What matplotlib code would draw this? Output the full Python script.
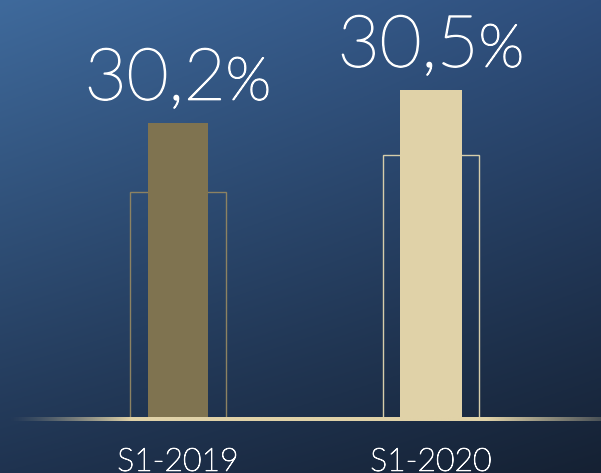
import numpy as np
import matplotlib
matplotlib.use("Agg")
import matplotlib.pyplot as plt
import matplotlib.patheffects as pe

periods = ["S1-2019", "S1-2020"]
values = [30.2, 30.5]
outline_values = [29.57, 29.91]
labels = ["30,2", "30,5"]

solid_colors = ["#7f7350", "#e0d2a8"]
edge_colors = ["#8c8262", "#d6cdaa"]

W, H = 601, 473
fig = plt.figure(figsize=(W / 100, H / 100), dpi=100)

# background gradient (four corner colours, bilinear)
bg = fig.add_axes([0, 0, 1, 1])
tl = np.array([63, 106, 156]) / 255
tr = np.array([46, 78, 124]) / 255
bl = np.array([31, 51, 80]) / 255
br = np.array([21, 33, 51]) / 255
u = np.linspace(0, 1, 300)[None, :, None]
v = np.linspace(0, 1, 240)[:, None, None]
img = (1 - v) * ((1 - u) * tl + u * tr) + v * ((1 - u) * bl + u * br)
bg.imshow(img, aspect="auto", extent=(0, 1, 0, 1), origin="upper")
bg.set_axis_off()

# main axes: starts at the baseline
base = 27.52
ax = fig.add_axes([0, 55 / H, 1, 418 / H])
ax.patch.set_alpha(0)
ax.set_xlim(-0.7036, 1.672)
ax.set_ylim(base, base + 418 / 110)
ax.set_axis_off()

x = np.arange(len(periods))
heights = [v_ - base for v_ in values]
o_heights = [v_ - base for v_ in outline_values]

ax.bar(x, o_heights, width=0.38, bottom=base, facecolor="none",
       edgecolor=edge_colors, linewidth=1.0, zorder=2)
ax.bar(x, heights, width=[0.237, 0.245], bottom=base, color=solid_colors,
       zorder=3)

thicken = [pe.withStroke(linewidth=1.1, foreground="white")]

# value labels: number large, percent sign smaller
renderer = fig.canvas.get_renderer()
for xi, v_, lab in zip(x, values, labels):
    t1 = ax.annotate(lab, xy=(xi, v_), xytext=(0, 17), textcoords="offset points",
                     ha="left", va="baseline", color="white", fontsize=52,
                     family="Lato", weight="light", path_effects=thicken)
    t2 = ax.annotate("%", xy=(xi, v_), xytext=(0, 17), textcoords="offset points",
                     ha="left", va="baseline", color="white", fontsize=43,
                     family="Lato", weight="light", path_effects=thicken)
    w1 = t1.get_window_extent(renderer).width * 0.72
    w2 = t2.get_window_extent(renderer).width * 0.72
    tot = w1 + w2
    t1.set_position((-tot / 2, 17))
    t2.set_position((-tot / 2 + w1, 17))

for xi, p in zip(x, periods):
    ax.annotate(p, xy=(xi, base), xytext=(0, -38), textcoords="offset points",
                ha="center", va="baseline", color="white", fontsize=23,
                family="Lato", weight="light", annotation_clip=False,
                path_effects=[pe.withStroke(linewidth=0.7, foreground="white")])

# baseline with faded ends
xl, xr = ax.get_xlim()
n = 601
px = np.linspace(8, 601, n)
alpha = np.ones(n)
left = px < 130
alpha[left] = np.clip((px[left] - 8) / (130 - 8), 0, 1) ** 1.3
right = px > 487
alpha[right] = 1 - 0.75 * ((px[right] - 487) / (601 - 487))
strip = np.zeros((1, n, 4))
strip[..., :3] = np.array([224, 210, 168]) / 255
strip[0, :, 3] = alpha
ax.imshow(strip, aspect="auto",
          extent=(xl + 8 / 253, xr, base - 3.5 / 110, base + 0.5 / 110),
          clip_on=False, zorder=4)
ax.set_xlim(xl, xr)
ax.set_ylim(base, base + 418 / 110)

fig.savefig("out.png", dpi=100)
